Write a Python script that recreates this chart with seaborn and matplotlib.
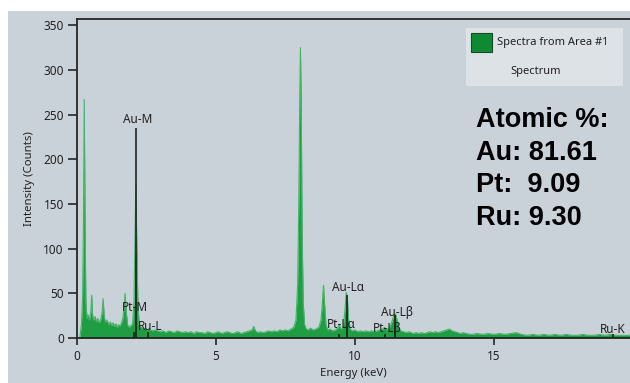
import numpy as np
import pandas as pd
import matplotlib
matplotlib.use("Agg")
import matplotlib.pyplot as plt
import seaborn as sns
from matplotlib.patches import Rectangle

# ---------------- data ----------------
energy_kev = [
    0.00, 0.10, 0.16, 0.20, 0.23, 0.26, 0.29, 0.32, 0.36, 0.40, 0.45, 0.50, 0.53, 0.56, 0.60,
    0.65, 0.70, 0.75, 0.80, 0.85, 0.90, 0.94, 0.98, 1.02, 1.08, 1.15, 1.20, 1.25, 1.30, 1.35,
    1.40, 1.45, 1.50, 1.55, 1.60, 1.65, 1.70, 1.73, 1.77, 1.82, 1.88, 1.95, 2.00, 2.05, 2.09,
    2.12, 2.15, 2.19, 2.24, 2.30, 2.38, 2.45, 2.52, 2.60, 2.70, 2.80, 2.90, 3.00, 3.10, 3.20,
    3.30, 3.40, 3.50, 3.60, 3.70, 3.80, 3.90, 4.00, 4.10, 4.20, 4.30, 4.40, 4.50, 4.60, 4.70,
    4.80, 4.90, 5.00, 5.10, 5.20, 5.30, 5.40, 5.50, 5.60, 5.70, 5.80, 5.90, 6.00, 6.10, 6.20,
    6.30, 6.36, 6.42, 6.50, 6.60, 6.70, 6.80, 6.90, 7.00, 7.10, 7.20, 7.30, 7.40, 7.50, 7.60,
    7.70, 7.80, 7.88, 7.94, 7.98, 8.02, 8.04, 8.07, 8.10, 8.14, 8.19, 8.25, 8.32, 8.40, 8.50,
    8.60, 8.70, 8.78, 8.83, 8.87, 8.91, 8.96, 9.02, 9.10, 9.20, 9.30, 9.38, 9.44, 9.50, 9.58,
    9.64, 9.69, 9.73, 9.77, 9.83, 9.90, 10.00, 10.10, 10.20, 10.30, 10.40, 10.50, 10.60, 10.70,
    10.80, 10.90, 11.00, 11.07, 11.15, 11.25, 11.33, 11.40, 11.46, 11.52, 11.58, 11.65, 11.75,
    11.85, 11.95, 12.10, 12.20, 12.30, 12.40, 12.50, 12.60, 12.70, 12.80, 12.90, 13.00, 13.10,
    13.20, 13.30, 13.40, 13.50, 13.60, 13.70, 13.80, 13.90, 14.00, 14.20, 14.40, 14.60, 14.80,
    15.00, 15.20, 15.40, 15.60, 15.80, 16.00, 16.20, 16.40, 16.60, 16.80, 17.00, 17.20, 17.40,
    17.60, 17.80, 18.00, 18.20, 18.40, 18.60, 18.80, 19.00, 19.20, 19.40, 19.60, 19.90,
]
counts = [
    0, 0, 15, 45, 120, 267, 130, 40, 22, 26, 20, 30, 48, 26, 20,
    24, 18, 22, 17, 20, 28, 44, 24, 18, 20, 15, 18, 14, 17, 13,
    16, 12, 15, 13, 17, 22, 35, 50, 30, 15, 12, 14, 16, 40, 120,
    172, 110, 40, 14, 12, 10, 11, 9, 10, 8, 9, 8, 7, 8, 6,
    8, 7, 6, 8, 7, 6, 7, 6, 7, 5, 7, 6, 6, 5, 7,
    6, 5, 6, 7, 5, 6, 7, 6, 5, 6, 7, 5, 6, 7, 8,
    9, 13, 8, 6, 7, 6, 7, 8, 7, 8, 7, 9, 8, 9, 8,
    10, 12, 20, 60, 150, 280, 325, 260, 120, 40, 15, 10, 9, 11, 9,
    10, 12, 20, 40, 59, 38, 15, 9, 10, 8, 9, 11, 15, 10, 12,
    30, 51, 45, 22, 10, 8, 9, 7, 8, 7, 8, 7, 8, 7,
    8, 9, 10, 12, 9, 12, 18, 25, 27, 20, 12, 8, 7,
    6, 7, 5, 6, 5, 6, 5, 6, 7, 6, 7, 6, 7,
    8, 9, 10, 8, 7, 6, 5, 6, 5, 4, 5, 4, 5,
    4, 5, 4, 5, 6, 4, 3, 4, 3, 4, 3, 4, 3,
    4, 3, 3, 4, 3, 3, 4, 3, 4, 3, 3, 3,
]

line_names = ["Au-M", "Pt-M", "Ru-L", "Au-Lα", "Pt-Lα", "Au-Lβ", "Pt-Lβ", "Ru-K"]
line_energy = [2.12, 2.05, 2.56, 9.71, 9.44, 11.44, 11.07, 19.28]
line_height = [235, 7, 7, 48, 5, 26, 5, 4]
label_x = [2.19, 2.08, 2.62, 9.77, 9.51, 11.52, 11.17, 19.28]
label_y = [244, 34, 13, 56, 15, 29, 11, 10]

legend_label = "Spectra from Area #1"
legend_title = "Spectrum"
composition_lines = ["Atomic %:", "Au: 81.61", "Pt:  9.09", "Ru: 9.30"]

x_ticks = [0, 5, 10, 15]
y_ticks = [0, 50, 100, 150, 200, 250, 300, 350]

# ---------------- style ----------------
sns.set_theme(style="ticks")
plt.rcParams["font.family"] = ["Noto Sans", "DejaVu Sans"]

BG = "#c9d1d9"
GREEN_FILL = "#1f9d43"
GREEN_EDGE = "#45b565"
DARK = "#262626"

W, H = 630, 383
fig = plt.figure(figsize=(W / 100, H / 100), dpi=100, facecolor="white")
fig.patches.append(Rectangle((8 / W, 0), 1 - 8 / W, 1 - 11 / H, transform=fig.transFigure,
                             facecolor=BG, edgecolor="none", zorder=-10))

ax_left, ax_right, ax_top, ax_bottom = 77, 630, 19, 338
ax = fig.add_axes([ax_left / W, 1 - ax_bottom / H, (ax_right - ax_left) / W,
                   (ax_bottom - ax_top) / H])
ax.set_facecolor(BG)

df = pd.DataFrame({"Energy": energy_kev, "Counts": counts})
ax.fill_between(df["Energy"], 0, df["Counts"], color=GREEN_FILL, linewidth=0, zorder=2)
sns.lineplot(data=df, x="Energy", y="Counts", ax=ax, color=GREEN_EDGE, linewidth=0.8,
             estimator=None, sort=False, zorder=3)

# element marker lines
for e, h in zip(line_energy, line_height):
    ax.vlines(e, 0, h, color="#1a1a1a", linewidth=1.1, zorder=4)
for name, lx, ly in zip(line_names, label_x, label_y):
    ax.text(lx, ly, name, ha="center", va="center", fontsize=8.5, color="#222222", zorder=5)

ax.set_xlim(0, 19.9)
ax.set_ylim(0, 357)
ax.set_xticks(x_ticks)
ax.set_yticks(y_ticks)
ax.set_xticklabels([str(v) for v in x_ticks], fontsize=8.5, color="#222222")
ax.set_yticklabels([str(v) for v in y_ticks], fontsize=8.5, color="#222222")
ax.tick_params(axis="x", length=5, width=1.2, color=DARK, pad=4, direction="out")
ax.tick_params(axis="y", length=6.5, width=1.2, color=DARK, pad=3, direction="out")
ax.set_xlabel("Energy (keV)", fontsize=8.2, color="#222222", labelpad=3)
ax.set_ylabel("Intensity (Counts)", fontsize=8.2, color="#222222", labelpad=6)
for side in ["left", "bottom", "top"]:
    ax.spines[side].set_visible(True)
    ax.spines[side].set_color(DARK)
    ax.spines[side].set_linewidth(1.3)
ax.spines["right"].set_visible(False)
ax.spines["bottom"].set_zorder(6)

# legend-like box
ax.add_patch(Rectangle((0.703, 0.790), 0.284, 0.182, transform=ax.transAxes,
                       facecolor="#dde2e7", edgecolor="none", zorder=6))
ax.add_patch(Rectangle((0.712, 0.897), 0.038, 0.060, transform=ax.transAxes,
                       facecolor="#0f8a33", edgecolor="#1a4a2a", linewidth=0.8, zorder=7))
ax.text(0.759, 0.927, legend_label, transform=ax.transAxes, ha="left", va="center",
        fontsize=8, color="#222222", zorder=7)
ax.text(0.830, 0.834, legend_title, transform=ax.transAxes, ha="center", va="center",
        fontsize=8, color="#222222", zorder=7)

# composition annotation
ys = [0.661, 0.558, 0.458, 0.354]
for txt, yy in zip(composition_lines, ys):
    ax.text(0.7215, yy, txt, transform=ax.transAxes, ha="left", va="baseline",
            fontsize=19.5, fontweight="bold", family=["Liberation Sans", "DejaVu Sans"],
            color="black", zorder=7)

fig.savefig("out.png", dpi=100, facecolor="white")
